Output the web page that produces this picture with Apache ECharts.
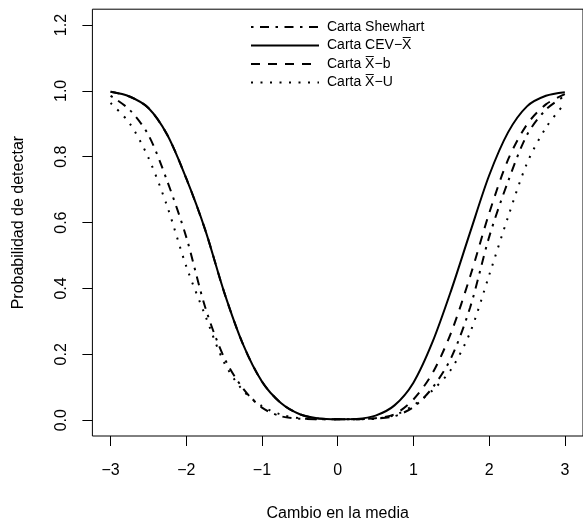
<!DOCTYPE html>
<html>
<head>
<meta charset="utf-8">
<script src="https://cdn.jsdelivr.net/npm/echarts@6/dist/echarts.min.js"></script>
<style>
  html, body { margin: 0; padding: 0; background: #fff; }
  #main { width: 583px; height: 527px; }
</style>
</head>
<body>
<div id="main"></div>
<script>
  // cambio en la media (delta) y probabilidad de detectar
  const shift = [-3, -2.75, -2.5, -2.25, -2, -1.75, -1.5, -1.25, -1, -0.75, -0.5, -0.25, 0,
                 0.25, 0.5, 0.75, 1, 1.25, 1.5, 1.75, 2, 2.25, 2.5, 2.75, 3];
  const shewhart = [0.985, 0.943, 0.866, 0.725, 0.556, 0.343, 0.19, 0.096, 0.038, 0.012, 0.0045, 0.003, 0.0027,
                    0.003, 0.0045, 0.012, 0.04, 0.098, 0.19, 0.343, 0.556, 0.725, 0.866, 0.943, 0.985];
  const cevX = [0.997, 0.983, 0.948, 0.866, 0.734, 0.578, 0.389, 0.23, 0.117, 0.052, 0.018, 0.005, 0.0027,
                0.004, 0.014, 0.045, 0.114, 0.236, 0.395, 0.571, 0.743, 0.874, 0.953, 0.985, 0.996];
  const xbarB = [0.997, 0.983, 0.948, 0.866, 0.734, 0.578, 0.389, 0.23, 0.117, 0.052, 0.018, 0.005, 0.0027,
                 0.003, 0.006, 0.018, 0.063, 0.142, 0.267, 0.437, 0.628, 0.791, 0.898, 0.959, 0.99];
  const xbarU = [0.963, 0.902, 0.797, 0.648, 0.467, 0.318, 0.175, 0.09, 0.043, 0.017, 0.006, 0.003, 0.0027,
                 0.003, 0.005, 0.015, 0.045, 0.09, 0.155, 0.267, 0.44, 0.617, 0.78, 0.888, 0.962];

  const xTicks = [-3, -2, -1, 0, 1, 2, 3];
  const yTicks = [0, 0.2, 0.4, 0.6, 0.8, 1.0, 1.2];
  const names = ['Carta Shewhart', 'Carta CEV\u2212X\u0305', 'Carta X\u0305\u2212b', 'Carta X\u0305\u2212U'];

  const font = "'Liberation Sans', Arial, sans-serif";

  function pairs(ys) {
    return shift.map((x, i) => [x, ys[i]]);
  }

  function lineSeries(name, ys, dash) {
    return {
      name: name,
      type: 'line',
      data: pairs(ys),
      smooth: 0.3,
      symbol: 'none',
      itemStyle: { color: '#000' },
      lineStyle: { color: '#000', width: 2, type: dash, cap: 'butt' },
      emphasis: { disabled: true }
    };
  }

  let myChart = echarts.init(document.getElementById('main'), null, { renderer: 'canvas' });

  let option = {
    backgroundColor: '#fff',
    animation: false,
    textStyle: { fontFamily: font, color: '#000' },
    grid: {
      left: 92.4, top: 9.2, width: 493.2, height: 427.3,
      show: true, borderColor: '#000', borderWidth: 1, backgroundColor: 'transparent'
    },
    legend: {
      orient: 'vertical',
      left: 250,
      top: 20,
      padding: 0,
      itemWidth: 68,
      itemHeight: 14,
      itemGap: 4.5,
      selectedMode: false,
      itemStyle: { opacity: 0 },
      textStyle: { fontFamily: font, fontSize: 14, color: '#000', padding: [0, 0, 0, 3] },
      data: names
    },
    xAxis: {
      type: 'value',
      min: -3.24,
      max: 3.24,
      name: 'Cambio en la media',
      nameLocation: 'middle',
      nameGap: 70,
      nameTextStyle: { fontFamily: font, fontSize: 16, color: '#000' },
      axisLine: { show: false, onZero: false },
      axisTick: { show: true, length: 10, customValues: xTicks, lineStyle: { color: '#000' } },
      axisLabel: {
        customValues: xTicks,
        margin: 27,
        fontFamily: font, fontSize: 16, color: '#000',
        formatter: v => String(v).replace('-', '\u2212')
      },
      splitLine: { show: false }
    },
    yAxis: {
      type: 'value',
      min: -0.048,
      max: 1.248,
      name: 'Probabilidad de detectar',
      nameLocation: 'middle',
      nameGap: 66,
      nameRotate: 90,
      nameTextStyle: { fontFamily: font, fontSize: 16, color: '#000' },
      axisLine: { show: false, onZero: false },
      axisTick: { show: true, length: 10, customValues: yTicks, lineStyle: { color: '#000' } },
      axisLabel: {
        customValues: yTicks,
        rotate: 90,
        margin: 23,
        fontFamily: font, fontSize: 16, color: '#000',
        formatter: v => v.toFixed(1)
      },
      splitLine: { show: false }
    },
    series: [
      lineSeries(names[0], shewhart, [2.5, 6.5, 9, 6.5]),
      lineSeries(names[1], cevX, 'solid'),
      lineSeries(names[2], xbarB, [9, 8]),
      lineSeries(names[3], xbarU, [2, 7.5])
    ]
  };

  myChart.setOption(option);
</script>
</body>
</html>
